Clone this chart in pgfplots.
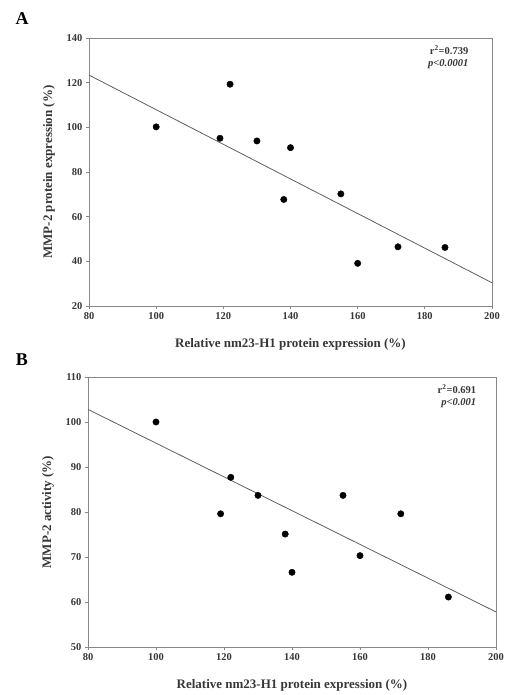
\documentclass[border=0pt]{standalone}
\usepackage{fontspec}
\setmainfont{Liberation Serif}
\usepackage{pgfplots}
\pgfplotsset{compat=1.18}
\definecolor{axgray}{RGB}{135,135,135}
\definecolor{txtgray}{RGB}{55,55,55}
\definecolor{lngray}{RGB}{95,95,95}
\pgfplotsset{
  myax/.style={
    scale only axis,
    anchor=north west,
    axis line style={axgray, line width=0.9pt},
    xtick pos=left, ytick pos=left,
    tick style={axgray, line width=0.8pt},
    tick align=outside,
    major tick length=3pt,
    xmin=80, xmax=200, xtick={80,100,...,200},
    /pgf/number format/assume math mode=true,
    tick label style={font=\fontsize{10.5}{12}\selectfont\bfseries, text=txtgray},
    label style={font=\fontsize{13}{15}\selectfont\bfseries, text=txtgray},
    xlabel={Relative nm23-H1 protein expression (\%)},
    xlabel style={yshift=-12pt},
    ylabel style={yshift=5pt},
    clip=false,
  },
  dots/.style={only marks, mark=*, mark size=3.2pt, black},
  fit/.style={no marks, lngray, line width=0.8pt},
}
\begin{document}
\begin{tikzpicture}
\useasboundingbox (0pt,0pt) rectangle (505pt,-695pt);
\node[font=\fontsize{18}{19}\selectfont\bfseries, anchor=center] at (22pt,-19pt) {A};
\node[font=\fontsize{18}{19}\selectfont\bfseries, anchor=center] at (22pt,-360pt) {B};
\begin{axis}[myax, at={(89pt,-38pt)}, width=403pt, height=268pt,
  ymin=20, ymax=140, ytick={20,40,...,140},
  ylabel={MMP-2 protein expression (\%)}]
\addplot[fit] coordinates {(80,123.4) (200,30.4)};
\addplot[dots] coordinates {
(100,100.2) (119,95.1) (122,119.3) (130,93.9) (138,67.7)
(140,90.9) (155,70.2) (160,39.1) (172,46.5) (186,46.2)};
\node[anchor=north east, align=right, font=\fontsize{10.5}{12.5}\selectfont\bfseries, text=txtgray] at (rel axis cs:0.95,0.985) {r$^{\mathbf{2}}$=0.739\\\textit{p<0.0001}};
\end{axis}
\begin{axis}[myax, at={(88pt,-377pt)}, width=408pt, height=270pt,
  ymin=50, ymax=110, ytick={50,60,...,110},
  ylabel={MMP-2 activity (\%)}]
\addplot[fit] coordinates {(80,102.8) (200,57.8)};
\addplot[dots] coordinates {
(100,100) (119,79.6) (122,87.7) (130,83.7) (138,75.1)
(140,66.6) (155,83.7) (160,70.3) (172,79.6) (186,61.1)};
\node[anchor=north east, align=right, font=\fontsize{10.5}{12.5}\selectfont\bfseries, text=txtgray] at (rel axis cs:0.96,0.985) {r$^{\mathbf{2}}$=0.691\\\textit{p<0.001}};
\end{axis}
\end{tikzpicture}
\end{document}
